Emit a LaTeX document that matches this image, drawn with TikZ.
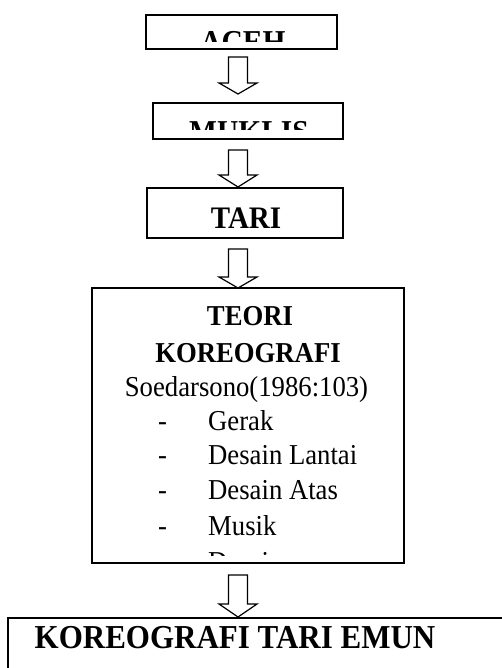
\documentclass[tikz,border=0pt]{standalone}
\usepackage{fontspec}
\usepackage{graphicx}
\setmainfont{Liberation Serif}
\usetikzlibrary{calc}
\newcommand{\vst}[1]{\scalebox{1}[1.08]{#1}}
\tikzset{
  boxstyle/.style={draw=black, line width=1.8pt, rectangle, inner sep=0pt},
  blockarr/.style={draw=black, line width=1.2pt, fill=white, line join=miter},
  normtxt/.style={font=\fontsize{26.7}{32}\selectfont, inner sep=0pt, anchor=base west},
  boldtxt/.style={font=\fontsize{26.7}{32}\selectfont\bfseries, inner sep=0pt, anchor=base},
  bigbold/.style={font=\fontsize{29.5}{34}\selectfont\bfseries, inner sep=0pt, anchor=base},
}
\newcommand{\myarrow}[4]{% x, top, headbase, tip
  \draw[blockarr] (#1-9.5,#2) -- (#1+9.5,#2) -- (#1+9.5,#3) -- (#1+19,#3) -- (#1,#4)
     -- (#1-19,#3) -- (#1-9.5,#3) -- cycle;}
\begin{document}
\begin{tikzpicture}[x=1pt,y=-1pt]
\useasboundingbox (0,0) rectangle (502,668);
\clip (0,0) rectangle (502,668);
\fill[white] (0,0) rectangle (502,668);
% boxes
\node[boxstyle, minimum width=191pt, minimum height=34pt] (aceh) at (241.5,32) {};
\node[boxstyle, minimum width=190pt, minimum height=36pt] (muklis) at (248,121) {};
\node[boxstyle, minimum width=196pt, minimum height=50pt] (tari) at (245,213) {};
\node[boxstyle, minimum width=312pt, minimum height=275pt] (teori) at (248,425.5) {};
\draw[line width=1.8pt] (520,618) coordinate (kr) -- (8,618) coordinate (kl) -- (8,700) coordinate (kb);
% clipped texts
\begin{scope}
  \clip (146,15) rectangle (337,41.5);
  \node[bigbold] (tAceh) at (243,52.5) {\vst{ACEH}};
\end{scope}
\begin{scope}
  \clip (153,103) rectangle (343,129.5);
  \node[bigbold] (tMuklis) at (249,143) {\vst{MUKLIS}};
\end{scope}
\node[bigbold, font=\fontsize{29}{34}\selectfont\bfseries] (tTari) at (246,228) {\vst{TARI}};
\node[boldtxt] (tTeori) at (250,325) {\vst{TEORI}};
\node[boldtxt] (tKoreo) at (248,362) {\vst{KOREOGRAFI}};
\node[normtxt, anchor=base] (tSoed) at (246.5,396.5) {\vst{Soedarsono(1986:103)}};
\node[normtxt] (d1) at (158,430) {\vst{-}};
\node[normtxt] (i1) at (208,430) {\vst{Gerak}};
\node[normtxt] (d2) at (158,464) {\vst{-}};
\node[normtxt] (i2) at (208,464) {\vst{Desain Lantai}};
\node[normtxt] (d3) at (158,499) {\vst{-}};
\node[normtxt] (i3) at (208,499) {\vst{Desain Atas}};
\node[normtxt] (d4) at (158,535) {\vst{-}};
\node[normtxt] (i4) at (208,535) {\vst{Musik}};
\begin{scope}
  \clip (92,540) rectangle (404,555.5);
  \node[normtxt] (d5) at (158,571) {\vst{-}};
  \node[normtxt] (i5) at (208,571) {\vst{Desain}};
\end{scope}
\node[font=\fontsize{31}{36}\selectfont\bfseries, inner sep=0pt, anchor=base] (tEmun) at (235,648) {\vst{KOREOGRAFI TARI EMUN}};
% arrows
\myarrow{238}{57}{83}{94}
\myarrow{238}{150}{175}{187}
\myarrow{238}{249}{277}{288}
\myarrow{238}{575}{604}{617}
\end{tikzpicture}
\end{document}
